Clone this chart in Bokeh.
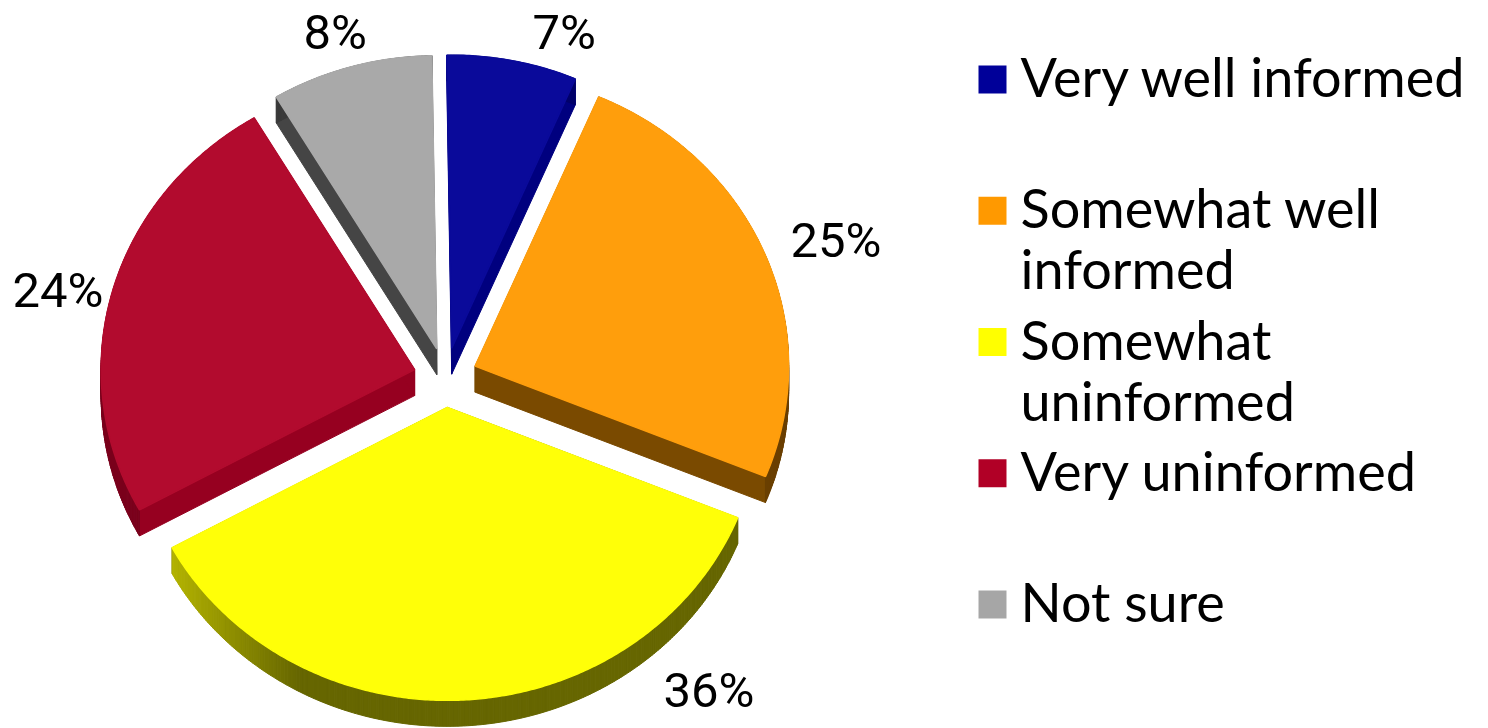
import numpy as np
from bokeh.plotting import figure
from bokeh.models import Range1d
from bokeh.core.properties import value
from bokeh.embed import file_html
from bokeh.resources import INLINE

# ---- data ----
categories = ["Very well informed", "Somewhat well informed", "Somewhat uninformed", "Very uninformed", "Not sure"]
shares = [6.7, 24.7, 35.9, 24.4, 8.3]
legend_lines = [["Very well informed"], ["Somewhat well", "informed"], ["Somewhat", "uninformed"], ["Very uninformed"], ["Not sure"]]

# ---- styles ----
top_colors = ["#0a0a9a", "#ff9e0c", "#ffff08", "#b20b2e", "#a9a9a9"]
cut_colors = ["#00007f", "#7a4a00", "#666600", "#960020", "#454545"]
arc_colors = ["#00006a", "#6a3f00", "#666600", "#7a001c", "#3a3a3a"]
swatch_colors = ["#000099", "#ff9900", "#ffff00", "#b10026", "#a6a6a6"]

# ---- layout (reference pixel space) ----
CX, CY, RX, RY, EXPLODE, DEPTH, START = 445, 377, 313.5, 293, 32, 26, -0.9
label_x = [532, 790, 663, 12, 303]
label_y = [52, 260, 710, 310, 52]
LABEL_FONT = "Roboto"
LEGEND_FONT = "Lato"
SVG_SHIFT = 20  # alphabetic baseline is rendered this far low

p = figure(width=1488, height=728, x_range=Range1d(0, 1488), y_range=Range1d(728, 0),
           output_backend="svg", toolbar_location=None, min_border=0)
p.axis.visible = False
p.grid.visible = False
p.outline_line_color = None
p.background_fill_color = "white"

def pt(tip, th, r=1.0):
    return tip[0] + RX * r * np.sin(th), tip[1] - RY * r * np.cos(th)

sx, sy, sc, tx, ty = [], [], [], [], []
angle = START
for i, s in enumerate(shares):
    sweep = s / sum(shares) * 360.0
    a0, a1 = np.radians(angle), np.radians(angle + sweep)
    mid = (a0 + a1) / 2
    tip = (CX + EXPLODE * np.sin(mid), CY - EXPLODE * RY / RX * np.cos(mid))
    ths = np.linspace(a0, a1, max(int(sweep), 8) * 2)
    ax, ay = pt(tip, ths)
    for ex, ey in ((ax[0], ay[0]), (ax[-1], ay[-1])):
        sx.append([tip[0], ex, ex, tip[0]])
        sy.append([tip[1], ey, ey + DEPTH, tip[1] + DEPTH])
        sc.append(cut_colors[i])
    for j in range(len(ths) - 1):
        sx.append([ax[j], ax[j + 1], ax[j + 1], ax[j]])
        sy.append([ay[j], ay[j + 1], ay[j + 1] + DEPTH, ay[j] + DEPTH])
        if i == 2:
            f = min(max((ax[j] - 173) / 127.0, 0), 1)
            sc.append("#%02x%02x00" % (int(179 + (102 - 179) * f), int(179 + (102 - 179) * f)))
        else:
            sc.append(arc_colors[i])
    tx.append([tip[0]] + list(ax))
    ty.append([tip[1]] + list(ay))
    angle += sweep

p.patches(sx, sy, fill_color=sc, line_color=sc, line_width=1)
p.patches(tx, ty, fill_color=top_colors, line_color=top_colors, line_width=1.5)

labels = ["%d%%" % round(s) for s in shares]
p.text(label_x, [y - SVG_SHIFT for y in label_y], text=labels, text_font=value(LABEL_FONT), text_font_size="49px",
       text_color="black", text_align="left", text_baseline="alphabetic")

sw_y = [79 + 131.25 * i for i in range(len(categories))]
p.rect([992] * 5, sw_y, width=28, height=28, fill_color=swatch_colors, line_color=None)
lx, ly, lt = [], [], []
for y, lines in zip(sw_y, legend_lines):
    for k, t in enumerate(lines):
        lx.append(1020); ly.append(y + 17 + 61 * k - SVG_SHIFT); lt.append(t)
p.text(lx, ly, text=lt, text_font=value(LEGEND_FONT), text_font_size="54px",
       text_color="black", text_align="left", text_baseline="alphabetic")

open("out.html", "w").write(file_html(p, INLINE))
